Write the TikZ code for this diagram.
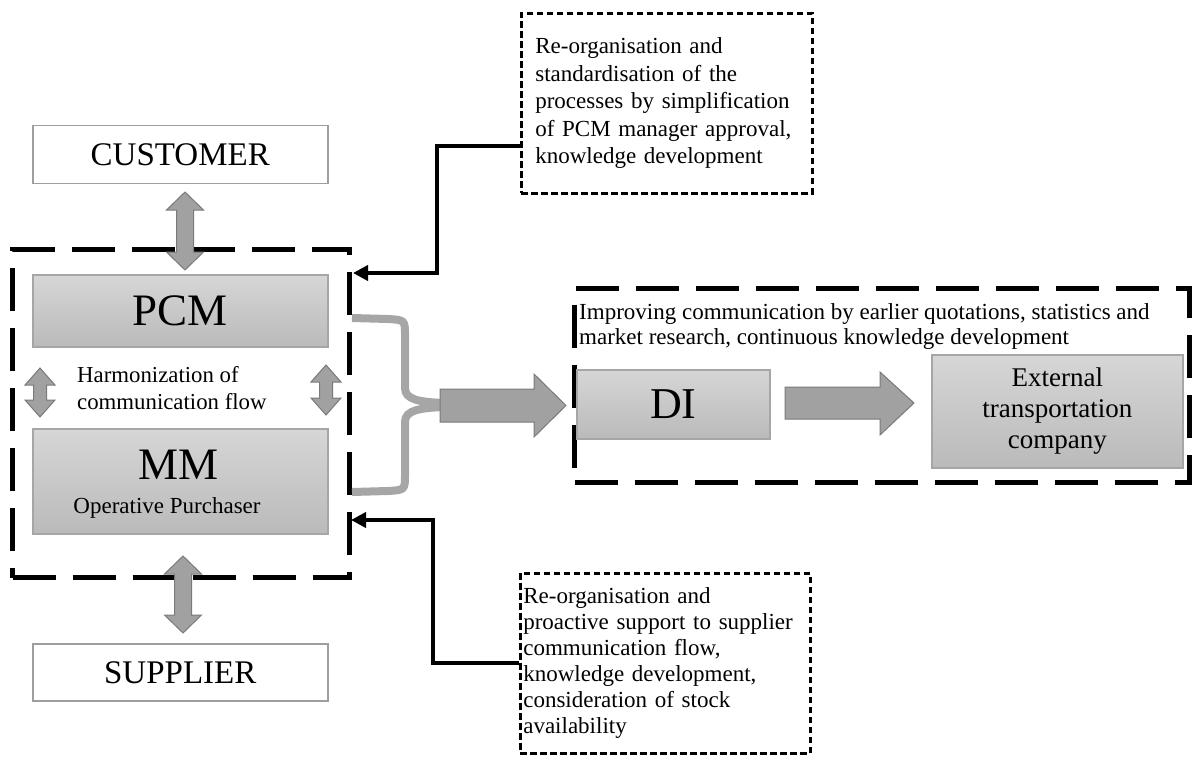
\documentclass[tikz,border=0pt]{standalone}
\usepackage{fontspec}
\setmainfont{Liberation Serif}
\usetikzlibrary{arrows.meta,calc}
\newcommand\vdarr[6]{%
  \path[blockarrow] ({#1-#4},{#2+#6}) -- ({#1-#5},{#2+#6}) -- (#1,#2) -- ({#1+#5},{#2+#6}) -- ({#1+#4},{#2+#6})
   -- ({#1+#4},{#3-#6}) -- ({#1+#5},{#3-#6}) -- (#1,#3) -- ({#1-#5},{#3-#6}) -- ({#1-#4},{#3-#6}) -- cycle;}
\begin{document}
\begin{tikzpicture}[x=1pt,y=-1pt,
  bigdash/.style={draw=black,line width=5pt,dash pattern=on 43pt off 17pt,inner sep=0pt,anchor=north west},
  smalldash/.style={draw=black,line width=2.6pt,dash pattern=on 6.5pt off 3.5pt,anchor=north west},
  whitebox/.style={draw=black!38,line width=1.5pt,fill=white,inner sep=0pt,anchor=north west},
  graybox/.style={draw=black!35,line width=1.5pt,top color=black!16,bottom color=black!27,inner sep=0pt,anchor=north west},
  blockarrow/.style={fill=black!37,draw=black!52,line width=1pt},
  conn/.style={draw=black,line width=4pt,-{Triangle[length=15pt,width=15pt]}},
  bracestyle/.style={draw=black!35,line width=8pt},
  plain/.style={inner sep=0pt}]

\useasboundingbox (0,0) rectangle (1192,757);

% dashed containers
\node[bigdash,minimum width=337pt,minimum height=328pt] (lbox) at (10,247) {};
\node[bigdash,minimum width=615pt,minimum height=194pt] (rbox) at (572,286) {};

% double arrows
\vdarr{185}{192}{270}{8.5}{18.5}{18}
\vdarr{183}{556}{633}{8.5}{18.5}{18}
\vdarr{40}{368}{417}{6.5}{15}{17}
\vdarr{326}{365}{415}{6.5}{15}{17}

% white boxes
\node[whitebox,minimum width=295pt,minimum height=58pt,font=\fontsize{33}{36}\selectfont] (cust) at (32,125) {CUSTOMER};
\node[whitebox,minimum width=295pt,minimum height=57pt,font=\fontsize{33}{36}\selectfont] (supp) at (32,643) {SUPPLIER};

% gray boxes
\node[graybox,minimum width=295pt,minimum height=72pt,font=\fontsize{45}{48}\selectfont] (pcm) at (32,274) {PCM};
\node[graybox,minimum width=295pt,minimum height=105pt] (mm) at (32,428) {};
\node[plain,font=\fontsize{45}{48}\selectfont] (mmt) at (179,465) {MM};
\node[plain,font=\fontsize{23}{26}\selectfont] (opt) at (167,508) {Operative Purchaser};
\node[plain,anchor=west,align=left,font=\fontsize{22.8}{27}\selectfont] (harm) at (77,388.5) {Harmonization of\\communication flow};

\node[graybox,minimum width=193pt,minimum height=69pt,font=\fontsize{44}{48}\selectfont] (di) at (576,369) {DI};
\node[graybox,minimum width=251pt,minimum height=113pt,align=center,font=\fontsize{27}{31}\selectfont] (ext) at (931,354) {External\\transportation\\company};
\node[plain,anchor=west,align=left,font=\fontsize{23}{25}\selectfont] (rtext) at (579,327) {Improving communication by earlier quotations,\ statistics and\\market research, continuous knowledge development};

% brace
\draw[bracestyle] (352,318) -- (388,319) .. controls (405,320) .. (405,336) -- (405,388)
  .. controls (405,400) and (420,402) .. (444,403);
\draw[bracestyle] (444,407) .. controls (420,408) and (405,410) .. (405,422) -- (405,474)
  .. controls (405,490) .. (388,491) -- (352,492);

% block arrows
\path[blockarrow] (440,389) -- (534,389) -- (534,374) -- (566,405.5) -- (534,437) -- (534,422) -- (440,422) -- cycle;
\path[blockarrow] (785,387) -- (880,387) -- (880,372) -- (914,403) -- (880,435) -- (880,419) -- (785,419) -- cycle;

% note boxes
\node[smalldash,text width=263pt,inner xsep=14pt,inner ysep=0pt,minimum height=180pt,align=left,font=\fontsize{23}{27.5}\selectfont] (tbox) at (520,12)
  {Re-organisation and\\standardisation of the\\processes by simplification\\of PCM manager approval,\\knowledge development};
\node[smalldash,text width=284pt,inner xsep=3pt,inner ysep=0pt,minimum height=180pt,align=left,font=\fontsize{23}{26}\selectfont] (bbox) at (519,572)
  {Re-organisation and\\proactive support to supplier\\communication flow,\\knowledge development,\\consideration of stock\\availability};

% connectors
\coordinate (k1) at (437,273);
\coordinate (t1) at (353,273);
\draw[conn] ([yshift=-43pt]tbox.west) -| (k1) -- (t1);
\coordinate (k2) at (433,520);
\coordinate (t2) at (351,520);
\draw[conn] (bbox.west) -| (k2) -- (t2);
\end{tikzpicture}
\end{document}
